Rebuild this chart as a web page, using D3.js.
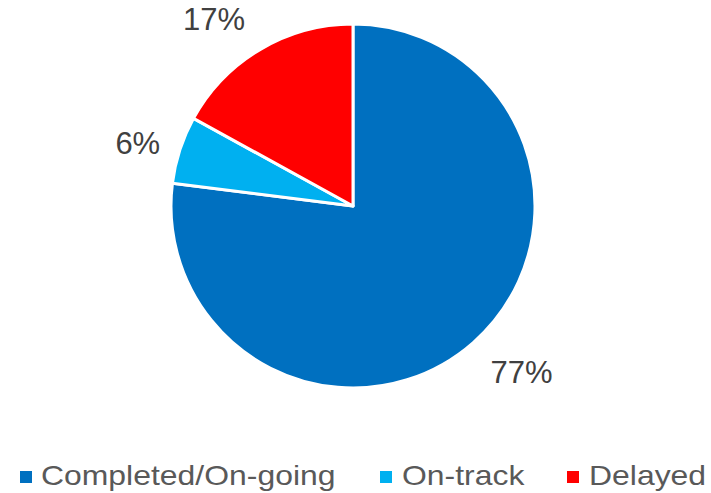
<!DOCTYPE html>
<html><head><meta charset="utf-8">
<script src="https://cdn.jsdelivr.net/npm/d3@7"></script>
<style>body{margin:0;background:#fff}</style>
</head><body>
<svg id="c" width="711" height="493"></svg>
<script>
const categories = ["Completed/On-going", "On-track", "Delayed"];
const values = [77, 6, 17];
const labels = ["77%", "6%", "17%"];
const colors = ["#0070C0", "#00B0F0", "#FF0000"];

const svg = d3.select("#c");
const cx = 353, cy = 206, r = 182;
const pie = d3.pie().sort(null).value(d => d)(values);
const arc = d3.arc().innerRadius(0).outerRadius(r);
const g = svg.append("g").attr("transform", `translate(${cx},${cy})`);
g.selectAll("path").data(pie).join("path")
  .attr("d", arc).attr("fill", (d,i) => colors[i])
  .attr("stroke", "#fff").attr("stroke-width", 3).attr("stroke-linejoin", "round");

const labelArc = d3.arc().innerRadius(r + 38).outerRadius(r + 38);
const offsets = [[23,1],[-6,5],[-27,3]];
g.selectAll("text.lbl").data(pie).join("text")
  .attr("class","lbl")
  .attr("x", (d,i) => labelArc.centroid(d)[0] + offsets[i][0])
  .attr("y", (d,i) => labelArc.centroid(d)[1] + offsets[i][1])
  .attr("text-anchor","middle").attr("dominant-baseline","central")
  .attr("font-family","Liberation Sans, Arial, sans-serif").attr("font-size",31)
  .attr("fill","#404040").text((d,i) => labels[i]);

const legendX = [20, 380, 567];
const textX = [41, 402, 589];
const lg = svg.append("g");
categories.forEach((c,i) => {
  lg.append("rect").attr("x", legendX[i]).attr("y", 471).attr("width", 12).attr("height", 12).attr("fill", colors[i]);
  lg.append("text").attr("transform", `translate(${textX[i]},485) scale(1.12,1)`)
    .attr("font-family","Liberation Sans, Arial, sans-serif").attr("font-size",28.5)
    .attr("fill","#595959").text(c);
});
</script>
</body></html>
